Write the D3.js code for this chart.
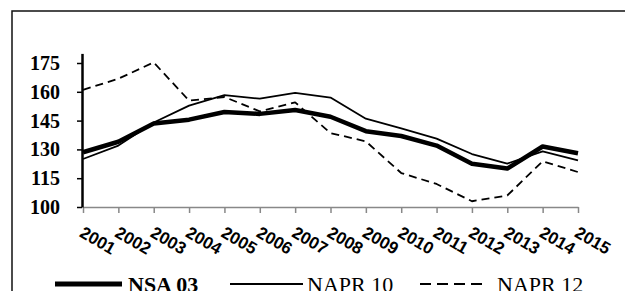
<!DOCTYPE html>
<html>
<head>
<meta charset="utf-8">
<script src="https://cdn.jsdelivr.net/npm/d3@7"></script>
<style>
  body { margin: 0; background: #fff; }
  svg { display: block; }
</style>
</head>
<body>
<svg id="chart" width="625" height="291"></svg>
<script>
// values
let years = ["2001", "2002", "2003", "2004", "2005", "2006", "2007", "2008",
             "2009", "2010", "2011", "2012", "2013", "2014", "2015"];
let nsa03  = [128.5, 134, 143.5, 145.5, 149.5, 148.5, 150.5, 147, 139.5, 137, 132, 122.5, 120, 131.5, 128];
let napr10 = [125, 132, 144, 152.8, 158.3, 156.4, 159.4, 157, 146, 141, 135.6, 127.6, 122.6, 129, 124.3];
let napr12 = [161, 166.8, 175.3, 155.4, 157.3, 149.8, 154.5, 138.5, 134.2, 117.7, 112, 103, 106, 123.8, 118.2];
let yTicks = [100, 115, 130, 145, 160, 175];

let series = [
  { name: "NSA 03",  values: nsa03,  width: 4.5, dash: null,  bold: true },
  { name: "NAPR 10", values: napr10, width: 1.8, dash: null,  bold: false },
  { name: "NAPR 12", values: napr12, width: 1.8, dash: "8,5", bold: false }
];

let svg = d3.select("#chart");

// outer frame, runs off the right and bottom edges
svg.append("rect")
    .attr("x", 12)
    .attr("y", 11)
    .attr("width", 640)
    .attr("height", 320)
    .attr("fill", "none")
    .attr("stroke", "#111")
    .attr("stroke-width", 1.5);

let x = d3.scalePoint().domain(years).range([83, 578]);
let y = d3.scaleLinear().domain([100, 180]).range([207, 53.4]);

// x axis (grey)
let xAxis = svg.append("g")
    .attr("transform", "translate(0,207)")
    .call(d3.axisBottom(x).tickSize(6).tickSizeOuter(0).tickFormat(""));
xAxis.select(".domain").attr("stroke", "#888").attr("stroke-width", 1.5);
xAxis.selectAll(".tick line").attr("stroke", "#888").attr("stroke-width", 1.5);

xAxis.selectAll(".tick").append("text")
    .attr("transform", "translate(-5,29) rotate(30)")
    .attr("text-anchor", "start")
    .attr("fill", "#000")
    .style("font-family", "'Liberation Sans', Arial, sans-serif")
    .style("font-weight", "bold")
    .style("font-size", "17px")
    .text(d => d);

// y axis (black)
let yAxis = svg.append("g")
    .attr("transform", "translate(82,0)")
    .call(d3.axisLeft(y).tickValues(yTicks).tickSize(5).tickSizeOuter(0).tickPadding(17));
yAxis.select(".domain").attr("stroke", "#000").attr("stroke-width", 2.5);
yAxis.selectAll(".tick line").attr("stroke", "#000").attr("stroke-width", 1.5);
yAxis.selectAll(".tick text")
    .attr("fill", "#000")
    .style("font-family", "'Liberation Serif', 'Times New Roman', serif")
    .style("font-weight", "bold")
    .style("font-size", "20px");

let line = d3.line()
    .x((d, i) => x(years[i]))
    .y(d => y(d));

// draw dashed first, thick last
[series[2], series[1], series[0]].forEach(s => {
  svg.append("path")
      .datum(s.values)
      .attr("d", line)
      .attr("fill", "none")
      .attr("stroke", "#000")
      .attr("stroke-width", s.width)
      .attr("stroke-dasharray", s.dash)
      .attr("stroke-linejoin", "round");
});

// legend
let legendX = [[55, 122, 128], [230, 303, 307], [420, 482, 497]];
let legend = svg.append("g");
series.forEach((s, i) => {
  legend.append("line")
      .attr("x1", legendX[i][0])
      .attr("x2", legendX[i][1])
      .attr("y1", 284)
      .attr("y2", 284)
      .attr("stroke", "#000")
      .attr("stroke-width", i == 0 ? 5 : 1.8)
      .attr("stroke-dasharray", s.dash ? "11,6" : null);
  legend.append("text")
      .attr("x", legendX[i][2])
      .attr("y", 292)
      .style("font-family", "'Liberation Serif', 'Times New Roman', serif")
      .style("font-weight", s.bold ? "bold" : "normal")
      .style("font-size", "22px")
      .text(s.name);
});
</script>
</body>
</html>
